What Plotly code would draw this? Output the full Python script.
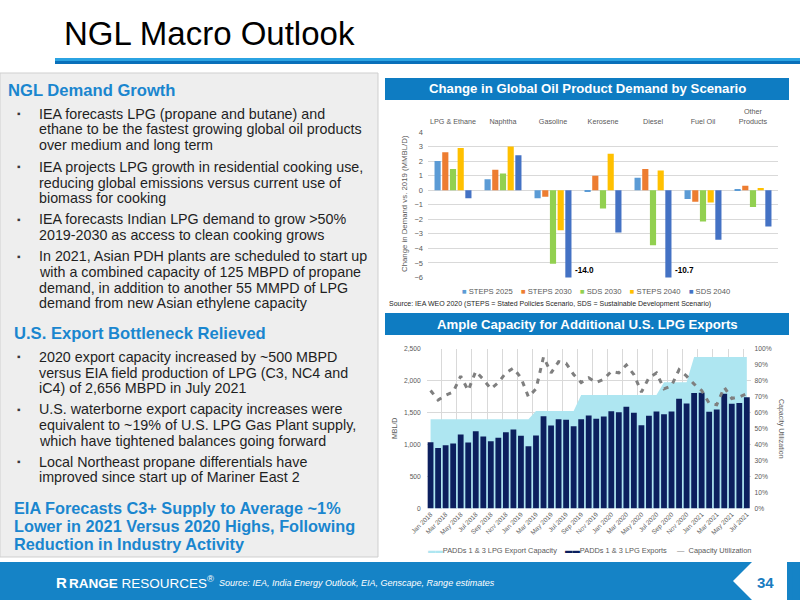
import plotly.graph_objects as go

W, H = 800, 600


def X(px):
    return px / W


def Y(py):
    return 1 - py / H


# ---------------- Top chart data ----------------
products = ["LPG & Ethane", "Naphtha", "Gasoline", "Kerosene", "Diesel", "Fuel Oil", "Other<br>Products"]
scenario_names = ["STEPS 2025", "STEPS 2030", "SDS 2030", "STEPS 2040", "SDS 2040"]
steps_2025 = [2.0, 0.75, -0.55, -0.1, 0.85, -0.6, 0.05]
steps_2030 = [2.6, 1.4, -0.45, 1.0, 1.45, -0.8, 0.3]
sds_2030 = [1.45, 1.15, -5.05, -1.25, -3.78, -2.15, -1.15]
steps_2040 = [2.9, 3.0, -2.75, 2.5, 1.35, -0.85, 0.15]
sds_2040 = [-0.55, 2.4, -14.0, -2.9, -10.7, -3.4, -2.5]
scenario_colors = ["#5B9BD5", "#ED7D31", "#92D050", "#FFC000", "#4472C4"]
top_y_ticks = [-6, -5, -4, -3, -2, -1, 0, 1, 2, 3, 4]

# ---------------- Bottom chart data ----------------
months = [
    "Jan 2018", "Feb 2018", "Mar 2018", "Apr 2018", "May 2018", "Jun 2018", "Jul 2018", "Aug 2018",
    "Sep 2018", "Oct 2018", "Nov 2018", "Dec 2018", "Jan 2019", "Feb 2019", "Mar 2019", "Apr 2019",
    "May 2019", "Jun 2019", "Jul 2019", "Aug 2019", "Sep 2019", "Oct 2019", "Nov 2019", "Dec 2019",
    "Jan 2020", "Feb 2020", "Mar 2020", "Apr 2020", "May 2020", "Jun 2020", "Jul 2020", "Aug 2020",
    "Sep 2020", "Oct 2020", "Nov 2020", "Dec 2020", "Jan 2021", "Feb 2021", "Mar 2021", "Apr 2021",
    "May 2021", "Jun 2021", "Jul 2021",
]
exports = [1040, 950, 990, 1020, 1160, 1035, 1210, 1130, 1055, 1110,
           1195, 1237, 1142, 975, 1145, 1447, 1300, 1400, 1390, 1290,
           1400, 1458, 1405, 1442, 1526, 1510, 1595, 1500, 1305, 1452,
           1521, 1479, 1521, 1721, 1647, 1810, 1816, 1516, 1552, 1800,
           1642, 1652, 1742]
capacity = [1400, 1400, 1400, 1400, 1400, 1400, 1400, 1400, 1400, 1400,
            1400, 1400, 1400, 1400, 1530, 1530, 1530, 1530, 1530, 1530,
            1780, 1780, 1780, 1780, 1780, 1780, 1780, 1780, 1780, 1780,
            1780, 1980, 1980, 1980, 1980, 2375, 2375, 2375, 2375, 2375,
            2375, 2375, 2375]
utilization = [74, 68, 71, 73, 83, 74, 86, 81, 75, 79,
               85, 88, 82, 70, 75, 95, 85, 92, 91, 84,
               79, 82, 79, 81, 86, 85, 90, 84, 73, 82,
               85, 75, 77, 87, 83, 78, 74, 66, 65, 76,
               69, 70, 72]
month_tick_labels = months[::2]
bottom_series_names = ["PADDs 1 & 3 LPG Export Capacity", "PADDs 1 & 3 LPG Exports", "Capacity Utilization"]
cap_color = "#AEE6F1"
exp_color = "#0C1F5E"
util_color = "#7F7F7F"

TOP_MIN, TOP_MAX = -6, 4

fig = go.Figure()

# ---- top chart bars ----
scenario_values = [steps_2025, steps_2030, sds_2030, steps_2040, sds_2040]
for name, vals, col in zip(scenario_names, scenario_values, scenario_colors):
    fig.add_trace(go.Bar(x=products, y=vals, name=name, marker=dict(color=col, line=dict(width=0)),
                         xaxis="x", yaxis="y", showlegend=False))

# ---- bottom chart (area on base axis, bars & line on overlay axes so they sit on top) ----
idx = list(range(len(months)))
fig.add_trace(go.Scatter(x=idx, y=capacity, mode="lines", line=dict(width=0, color=cap_color),
                         fill="tozeroy", fillcolor=cap_color, xaxis="x2", yaxis="y2",
                         name=bottom_series_names[0], showlegend=False))
fig.add_trace(go.Bar(x=idx, y=exports, width=0.77, marker=dict(color=exp_color, line=dict(width=0)),
                     xaxis="x2", yaxis="y3", name=bottom_series_names[1], showlegend=False))
fig.add_trace(go.Scatter(x=idx, y=utilization, mode="lines",
                         line=dict(color=util_color, width=3, dash="5px,6px"),
                         xaxis="x2", yaxis="y4", name=bottom_series_names[2], showlegend=False))

FONT = "Liberation Sans, Arial, sans-serif"
GRAY = "#595959"
GRID = "#D9D9D9"

shapes = []
annotations = []

# ---- slide decorations ----
shapes.append(dict(type="rect", xref="paper", yref="paper", x0=X(55), x1=X(800), y0=Y(61), y1=Y(58),
                   fillcolor="#2BA3E2", line=dict(width=0), layer="below"))
shapes.append(dict(type="rect", xref="paper", yref="paper", x0=X(55), x1=X(800), y0=Y(64), y1=Y(61),
                   fillcolor="#0A70BA", line=dict(width=0), layer="below"))
shapes.append(dict(type="rect", xref="paper", yref="paper", x0=X(0), x1=X(378), y0=Y(557), y1=Y(73),
                   fillcolor="#EEEEEE", line=dict(width=1, color="#CFCFCF"), layer="below"))
for y0, y1 in [(78, 100), (313, 335)]:
    shapes.append(dict(type="rect", xref="paper", yref="paper", x0=X(385), x1=X(789), y0=Y(y1), y1=Y(y0),
                       fillcolor="#0E7CC2", line=dict(width=0), layer="below"))
shapes.append(dict(type="rect", xref="paper", yref="paper", x0=X(0), x1=X(800), y0=Y(600), y1=Y(562),
                   fillcolor="#1583C6", line=dict(width=0), layer="above"))
notch = "M {} {} L {} {} L {} {} L {} {} L {} {} Z".format(
    X(752), Y(562), X(733), Y(581), X(752), Y(600), X(787), Y(600), X(787), Y(562))
shapes.append(dict(type="path", xref="paper", yref="paper", path=notch, fillcolor="white",
                   line=dict(width=0), layer="above"))
for a, b in [(787, 790), (792.5, 795), (797, 799.3)]:
    shapes.append(dict(type="rect", xref="paper", yref="paper", x0=X(a), x1=X(b), y0=Y(600), y1=Y(562),
                       fillcolor="#1583C6", line=dict(width=0), layer="above"))


def add_text(px, py, text, size, color="#1F1F1F", anchor="left", bold=False, italic=False, family=FONT,
             angle=0):
    t = text
    if bold:
        t = "<b>" + t + "</b>"
    if italic:
        t = "<i>" + t + "</i>"
    annotations.append(dict(xref="paper", yref="paper", x=X(px), y=Y(py), text=t, showarrow=False,
                            xanchor=anchor, yanchor="middle", textangle=angle, borderpad=0,
                            font=dict(family=family, size=size, color=color)))


# title
add_text(63, 33, "NGL Macro Outlook", 33, color="#000000")

# left panel text
BLUE_HEAD = "#1A86CF"
add_text(7, 91, "NGL Demand Growth", 16.6, color=BLUE_HEAD, bold=True)
bullets1 = [
    (113.5, ["IEA forecasts LPG (propane and butane) and",
             "ethane to be the fastest growing global oil products",
             "over medium and long term"]),
    (166.8, ["IEA projects LPG growth in residential cooking use,",
             "reducing global emissions versus current use of",
             "biomass for cooking"]),
    (219.2, ["IEA forecasts Indian LPG demand to grow >50%",
             "2019-2030 as access to clean cooking grows"]),
    (256.0, ["In 2021, Asian PDH plants are scheduled to start up",
             "with a combined capacity of 125 MBPD of propane",
             "demand, in addition to another 55 MMPD of LPG",
             "demand from new Asian ethylene capacity"]),
]
add_text(13, 333.3, "U.S. Export Bottleneck Relieved", 16.6, color=BLUE_HEAD, bold=True)
bullets2 = [
    (356.7, ["2020 export capacity increased by ~500 MBPD",
             "versus EIA field production of LPG (C3, NC4 and",
             "iC4) of 2,656 MBPD in July 2021"]),
    (409.3, ["U.S. waterborne export capacity increases were",
             "equivalent to ~19% of U.S. LPG Gas Plant supply,",
             "which have tightened balances going forward"]),
    (461.7, ["Local Northeast propane differentials have",
             "improved since start up of Mariner East 2"]),
]
for y0, lines in bullets1 + bullets2:
    add_text(16, y0, "\u25AA", 10, color="#3A3A3A")
    for i, ln in enumerate(lines):
        add_text(37.5, y0 + i * 15.8, ln, 14.3)
for i, ln in enumerate(["EIA Forecasts C3+ Supply to Average ~1%",
                        "Lower in 2021 Versus 2020 Highs, Following",
                        "Reduction in Industry Activity"]):
    add_text(13, 507.8 + i * 18.0, ln, 16.3, color=BLUE_HEAD, bold=True)

# chart headers
add_text(587, 89, "Change in Global Oil Product Demand by Scenario", 13.2, color="white", anchor="center",
         bold=True)
add_text(587, 324, "Ample Capacity for Additional U.S. LPG Exports", 13.2, color="white", anchor="center",
         bold=True)

# top chart y title
add_text(404, 204, "Change in Demand vs. 2019 (MMBL/D)", 7.8, color=GRAY, anchor="center", angle=-90)

# off-scale labels (bars truncated at axis minimum)
n_s = len(scenario_names)
for si, vals in enumerate(scenario_values):
    for ci, v in enumerate(vals):
        if v < TOP_MIN:
            annotations.append(dict(xref="x", yref="y", x=products[ci], y=TOP_MIN + 0.45,
                                    text="<b>{:.1f}</b>".format(v), showarrow=False, xanchor="left",
                                    yanchor="middle", xshift=(si - (n_s - 1) / 2) * 7.7 + 4.5,
                                    font=dict(family=FONT, size=8.2, color="#000000")))

# top legend (manual)
leg1 = "\u00a0\u00a0\u00a0\u00a0".join(
    "<span style='color:{}'>\u25A0</span>\u00a0{}".format(c, n) for n, c in zip(scenario_names, scenario_colors))
add_text(596, 291.7, leg1, 7.6, color=GRAY, anchor="center")

# source line
add_text(388, 304, "Source: IEA WEO 2020 (STEPS = Stated Policies Scenario, SDS = Sustainable Development Scenario)",
         7.0, color="#262626")

# bottom chart axis titles
add_text(394, 429, "MBL/D", 7, color=GRAY, anchor="center", angle=-90)
add_text(781, 429, "Capacity Utilization", 7, color=GRAY, anchor="center", angle=90)

# bottom legend (manual)
leg2 = ("<span style='color:{}'>\u25AC\u25AC</span>{}\u00a0\u00a0\u00a0\u00a0"
        "<span style='color:{}'>\u25AC\u25AC</span>{}\u00a0\u00a0\u00a0\u00a0\u00a0"
        "<span style='color:{}'>\u2014</span>\u00a0\u00a0{}").format(
    cap_color, bottom_series_names[0], exp_color, bottom_series_names[1], util_color, bottom_series_names[2])
add_text(589, 550.7, leg2, 7.4, color=GRAY, anchor="center")

# footer
add_text(55, 582, "R", 15, color="white", bold=True)
add_text(68, 582, "<b>RANGE</b> RESOURCES<sup>\u00ae</sup>", 13.5, color="white")
add_text(218, 582.5, "Source: IEA, India Energy Outlook, EIA, Genscape, Range estimates", 9.0, color="white",
         italic=True)
add_text(765, 582.5, "34", 15, color="#1A7CC0", anchor="center", bold=True)

fig.update_layout(
    width=W, height=H, autosize=False,
    margin=dict(l=0, r=0, t=0, b=0, pad=0, autoexpand=False),
    paper_bgcolor="white", plot_bgcolor="white",
    font=dict(family=FONT, color=GRAY),
    barmode="group", bargap=0.23, bargroupgap=0.2,
    showlegend=False,
    shapes=shapes, annotations=annotations,
    xaxis=dict(domain=[X(428), X(778)], anchor="y", side="top", showgrid=False, showline=False,
               ticks="", ticklabelstandoff=6, tickfont=dict(size=7.2, color=GRAY), fixedrange=True,
               automargin=False),
    yaxis=dict(domain=[Y(277.5), Y(132)], anchor="x", range=[TOP_MIN, TOP_MAX], tickvals=top_y_ticks,
               gridcolor=GRID, gridwidth=1, zeroline=False, showline=False, ticks="", ticklabelstandoff=4,
               tickfont=dict(size=7.5, color=GRAY), fixedrange=True, automargin=False),
    xaxis2=dict(domain=[X(426.8), X(750.6)], anchor="y2", range=[-0.5, len(months) - 0.5],
                tickmode="array", tickvals=idx[::2], ticktext=month_tick_labels, tickangle=-45,
                showgrid=False, showline=False, ticks="", zeroline=False,
                tickfont=dict(size=6.5, color=GRAY), automargin=False,
                minor=dict(tickmode="array", tickvals=[i - 0.5 for i in range(0, len(months) + 1, 2)],
                           showgrid=True, gridcolor=GRID, gridwidth=1),
                fixedrange=True),
    yaxis2=dict(domain=[Y(508.5), Y(349)], anchor="x2", range=[0, 2500], dtick=500, tickformat=",",
                gridcolor=GRID, zeroline=False, showline=False, ticks="", automargin=False,
                ticklabelstandoff=5, tickfont=dict(size=6.7, color=GRAY), fixedrange=True),
    yaxis3=dict(overlaying="y2", anchor="x2", range=[0, 2500], visible=False, showgrid=False,
                fixedrange=True, automargin=False),
    yaxis4=dict(overlaying="y2", anchor="x2", side="right", range=[0, 100], dtick=10, ticksuffix="%",
                showgrid=False, zeroline=False, showline=False, ticks="", automargin=False,
                ticklabelstandoff=3, tickfont=dict(size=6.7, color=GRAY), fixedrange=True),
)

post = ("document.documentElement.style.margin='0';document.documentElement.style.padding='0';"
        "document.documentElement.style.overflow='hidden';"
        "document.body.style.margin='0';document.body.style.padding='0';document.body.style.overflow='hidden';")

fig.write_html("out.html", config={"displayModeBar": False, "responsive": False}, post_script=post)
